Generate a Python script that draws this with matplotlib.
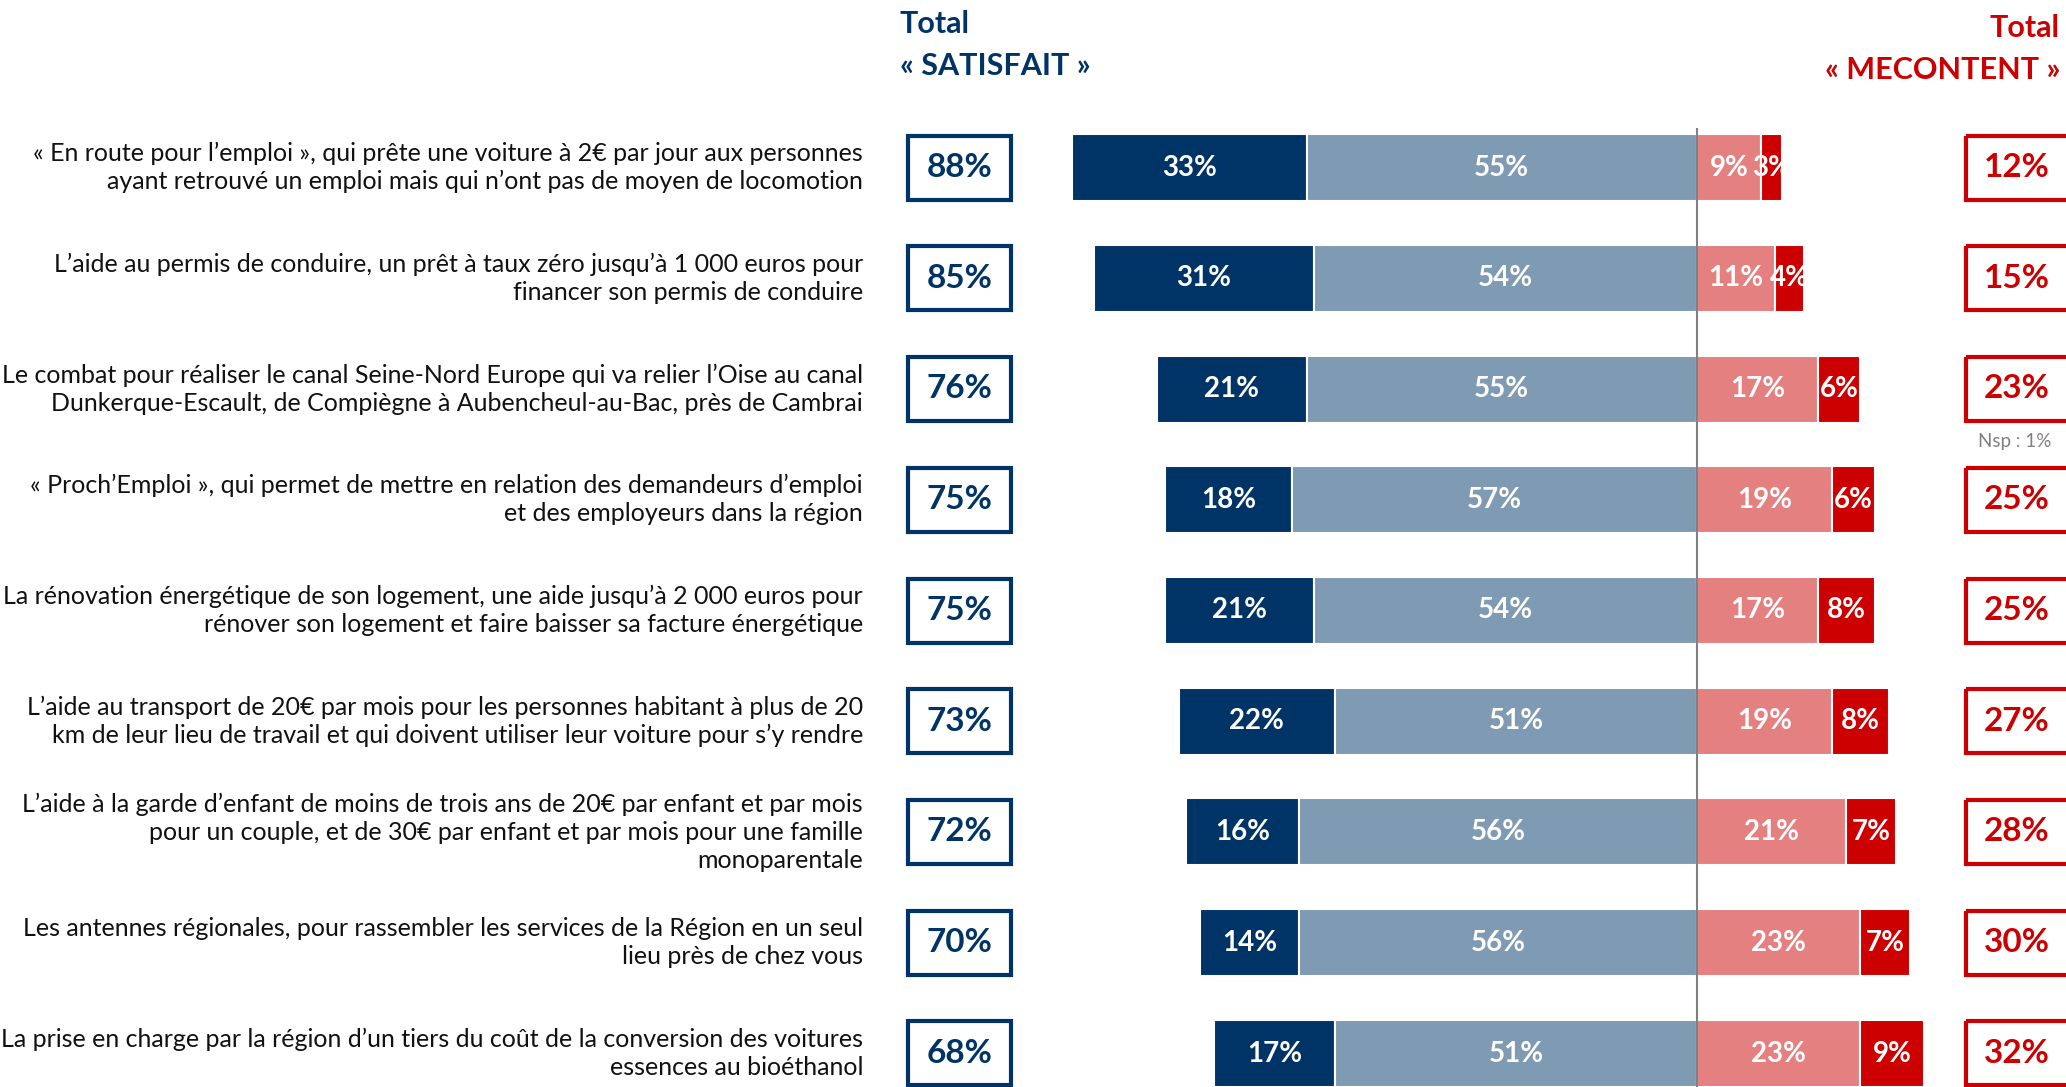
import matplotlib.pyplot as plt
import matplotlib.patches as mpatches

plt.rcParams['font.family'] = ['Lato', 'DejaVu Sans']

# DATA
labels = [
    "« En route pour l’emploi », qui prête une voiture à 2€ par jour aux personnes\nayant retrouvé un emploi mais qui n’ont pas de moyen de locomotion",
    "L’aide au permis de conduire, un prêt à taux zéro jusqu’à 1 000 euros pour\nfinancer son permis de conduire",
    "Le combat pour réaliser le canal Seine-Nord Europe qui va relier l’Oise au canal\nDunkerque-Escault, de Compiègne à Aubencheul-au-Bac, près de Cambrai",
    "« Proch’Emploi », qui permet de mettre en relation des demandeurs d’emploi\net des employeurs dans la région",
    "La rénovation énergétique de son logement, une aide jusqu’à 2 000 euros pour\nrénover son logement et faire baisser sa facture énergétique",
    "L’aide au transport de 20€ par mois pour les personnes habitant à plus de 20\nkm de leur lieu de travail et qui doivent utiliser leur voiture pour s’y rendre",
    "L’aide à la garde d’enfant de moins de trois ans de 20€ par enfant et par mois\npour un couple, et de 30€ par enfant et par mois pour une famille\nmonoparentale",
    "Les antennes régionales, pour rassembler les services de la Région en un seul\nlieu près de chez vous",
    "La prise en charge par la région d’un tiers du coût de la conversion des voitures\nessences au bioéthanol",
]
tres_satisfait = [33, 31, 21, 18, 21, 22, 16, 14, 17]
plutot_satisfait = [55, 54, 55, 57, 54, 51, 56, 56, 51]
plutot_mecontent = [9, 11, 17, 19, 17, 19, 21, 23, 23]
tres_mecontent = [3, 4, 6, 6, 8, 8, 7, 7, 9]
total_satisfait = [88, 85, 76, 75, 75, 73, 72, 70, 68]
total_mecontent = [12, 15, 23, 25, 25, 27, 28, 30, 32]
nsp_row = 2
nsp_text = "Nsp : 1%"

# COLOURS
navy = '#003366'
steel = '#7f9ab3'
pink = '#e48080'
red = '#cc0000'

W, H = 2066, 1087
fig = plt.figure(figsize=(W / 100, H / 100), dpi=100)
ax = fig.add_axes([0, 0, 1, 1])

# pixel geometry -> data units (x in %, y in rows)
px_per_pct = 7.1
x0 = 1697
row_px = 110.75
y0 = 167.5
ax.set_xlim(-x0 / px_per_pct, (W - x0) / px_per_pct)
ax.set_ylim((H - y0) / row_px, -y0 / row_px)
ax.axis('off')

rows = list(range(len(labels)))
bh = 67 / row_px
left1 = [-(a + b) for a, b in zip(tres_satisfait, plutot_satisfait)]
left2 = [-b for b in plutot_satisfait]

segs = [
    (tres_satisfait, left1, navy),
    (plutot_satisfait, left2, steel),
    (plutot_mecontent, [0] * len(rows), pink),
    (tres_mecontent, plutot_mecontent, red),
]
for vals, lefts, col in segs:
    bars = ax.barh(rows, vals, left=lefts, height=bh, color=col,
                   edgecolor='white', linewidth=1.5, zorder=2)
    for bar, v in zip(bars, vals):
        ax.text(bar.get_x() + bar.get_width() / 2, bar.get_y() + bar.get_height() / 2,
                f'{v}%', ha='center', va='center', color='white',
                fontsize=20, fontweight='bold', zorder=3)

# CENTER LINE
ax.vlines(0, (128 - y0) / row_px, (H - y0) / row_px + 0.5, color='#808080', linewidth=1.5, zorder=4)

# LEFT LABELS
lab_x = (863 - x0) / px_per_pct
for r, lab in zip(rows, labels):
    ax.text(lab_x, r, lab, ha='right', va='center', fontsize=18, color='#111111',
            linespacing=1.27)

# TOTAL BOXES
box_w = 103 / px_per_pct
box_h = 64 / row_px
lbox_x = (959.5 - x0) / px_per_pct
rbox_x = (2017 - x0) / px_per_pct
for r, ts, tm in zip(rows, total_satisfait, total_mecontent):
    ax.add_patch(mpatches.Rectangle((lbox_x - box_w / 2, r - box_h / 2), box_w, box_h,
                                    fill=False, edgecolor=navy, linewidth=3, zorder=2))
    ax.text(lbox_x, r, f'{ts}%', ha='center', va='center', color=navy,
            fontsize=24, fontweight='bold')
    ax.add_patch(mpatches.Rectangle((rbox_x - box_w / 2, r - box_h / 2), box_w, box_h,
                                    fill=False, edgecolor=red, linewidth=3, zorder=2))
    ax.text(rbox_x, r, f'{tm}%', ha='center', va='center', color=red,
            fontsize=24, fontweight='bold')

ax.text((2015 - x0) / px_per_pct, nsp_row + (440 - 388) / row_px, nsp_text,
        ha='center', va='center', color='#808080', fontsize=13.5)

# HEADERS
ax.text((900 - x0) / px_per_pct, (24 - y0) / row_px, 'Total', ha='left', va='center',
        color=navy, fontsize=22, fontweight='bold')
ax.text((900 - x0) / px_per_pct, (66 - y0) / row_px, '« SATISFAIT »', ha='left', va='center',
        color=navy, fontsize=22, fontweight='bold')
ax.text((2060 - x0) / px_per_pct, (28 - y0) / row_px, 'Total', ha='right', va='center',
        color=red, fontsize=22, fontweight='bold')
ax.text((2060 - x0) / px_per_pct, (70 - y0) / row_px, '« MECONTENT »', ha='right', va='center',
        color=red, fontsize=22, fontweight='bold')

fig.savefig('out.png', dpi=100)
